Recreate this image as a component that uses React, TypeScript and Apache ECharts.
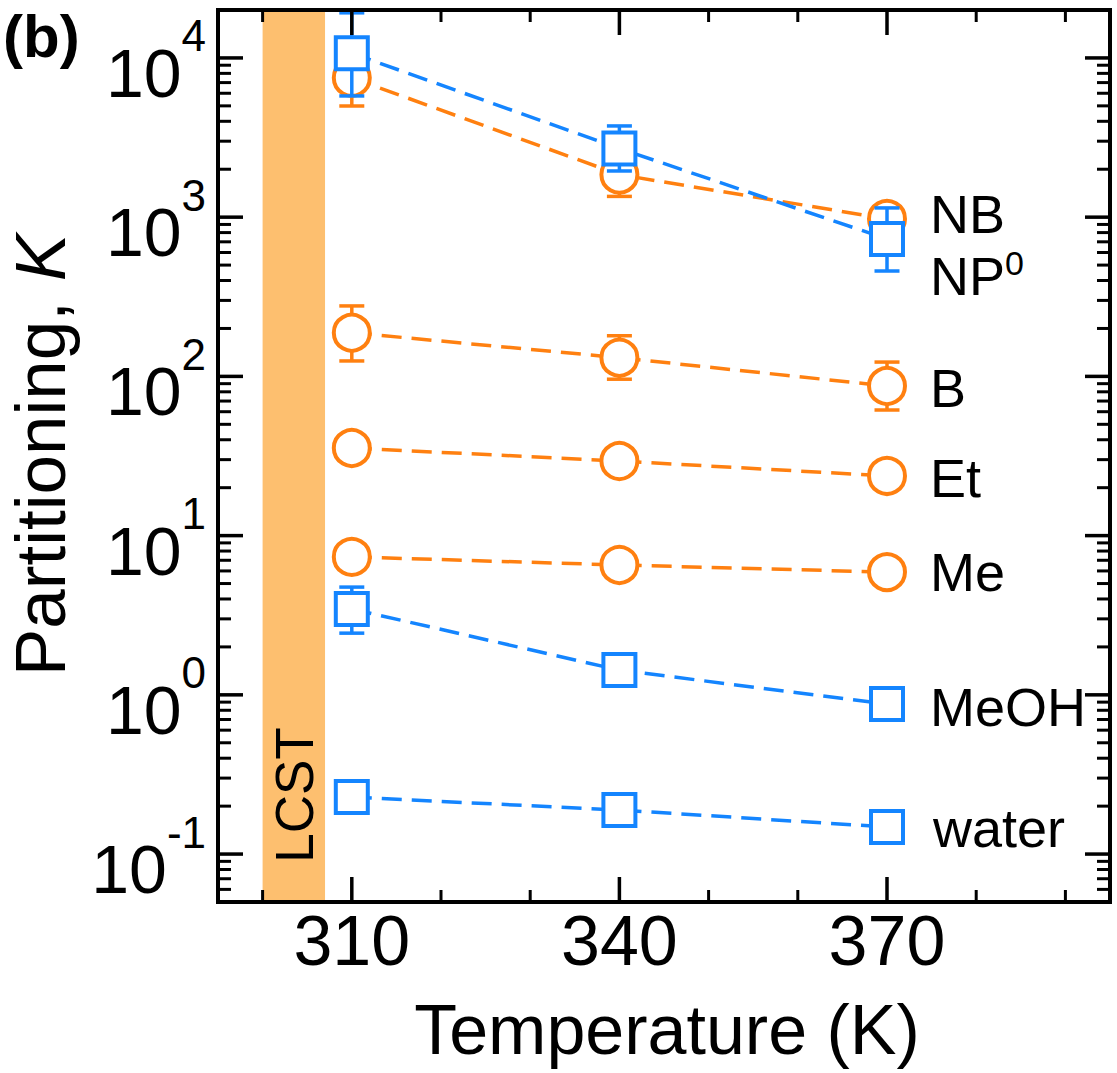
import React, { useEffect, useRef } from 'react';
import * as echarts from 'echarts';

// ---------- data ----------
const temperatures = [310, 340, 370];

const kNB = [7500, 1850, 975];
const kNP0 = [10700, 2700, 730];
const kB = [188, 131, 87];
const kEt = [35.5, 29.4, 23.7];
const kMe = [7.35, 6.54, 5.9];
const kMeOH = [3.46, 1.43, 0.875];
const kWater = [0.228, 0.189, 0.148];

const nbErrLow = [4990, 1350, null];
const nbErrHigh = [10000, 2350, null];
const bErrLow = [125, 96, 61.5];
const bErrHigh = [277, 180, 123];
const np0ErrLow = [5770, 1950, 459];
const np0ErrHigh = [19200, 3740, 1143];
const meohErrLow = [2.44, null, null];
const meohErrHigh = [4.75, null, null];

const xRange = [295, 395];
const yRange = [0.05, 20000];
const xTickValues = [300, 310, 320, 330, 340, 350, 360, 370, 380, 390];
const xMajorTicks = [310, 340, 370];
const yDecadeStarts = [0.01, 0.1, 1, 10, 100, 1000, 10000];
const lcstRange = [300, 307];

const FONT = "'Liberation Sans', Arial, Helvetica, sans-serif";
const ORANGE = '#FF8010';
const BLUE = '#1485FF';
const BAND = '#FDBF6F';

// ---------- helpers ----------
function isPow10(v: number) {
  const e = Math.log10(v);
  return Math.abs(e - Math.round(e)) < 1e-6;
}

const yTickValues: number[] = [];
yDecadeStarts.forEach((d) => {
  for (let m = 1; m <= 9; m++) {
    const v = d * m;
    if (v > yRange[0] * 1.0001 && v < yRange[1] * 0.9999) yTickValues.push(v);
  }
});

function lineSeries(name: string, values: number[], color: string, symbol: string, size: number, z: number) {
  return {
    type: 'line',
    name,
    z,
    silent: true,
    data: temperatures.map((t, i) => [t, values[i]]),
    symbol,
    symbolSize: size,
    showSymbol: true,
    itemStyle: { color: '#ffffff', borderColor: color, borderWidth: 4, opacity: 1 },
    lineStyle: { color, width: 3.5, type: [20, 10] },
    emphasis: { disabled: true },
  };
}

function errorSeries(name: string, groups: [Array<number | null>, Array<number | null>][], color: string, z: number) {
  const data: number[][] = [];
  groups.forEach(([lows, highs]) => {
    temperatures.forEach((t, i) => {
      const lo = lows[i];
      const hi = highs[i];
      if (lo != null && hi != null) data.push([t, lo, hi]);
    });
  });
  return {
    type: 'custom',
    name,
    z,
    silent: true,
    data,
    encode: { x: 0, y: [1, 2] },
    renderItem: (_params: any, api: any) => {
      const x = api.value(0);
      const lo = api.coord([x, api.value(1)]);
      const hi = api.coord([x, api.value(2)]);
      const half = 12.5;
      const st = { stroke: color, lineWidth: 3.5 };
      return {
        type: 'group',
        children: [
          { type: 'line', shape: { x1: lo[0], y1: lo[1], x2: hi[0], y2: hi[1] }, style: st },
          { type: 'line', shape: { x1: lo[0] - half, y1: lo[1], x2: lo[0] + half, y2: lo[1] }, style: st },
          { type: 'line', shape: { x1: hi[0] - half, y1: hi[1], x2: hi[0] + half, y2: hi[1] }, style: st },
        ],
      };
    },
  };
}

const yTickSeries = {
  type: 'custom',
  name: 'yticks',
  z: 10,
  silent: true,
  data: yTickValues.map((v) => [xRange[0], v]),
  renderItem: (_params: any, api: any) => {
    const v = api.value(1);
    const l = api.coord([xRange[0], v]);
    const r = api.coord([xRange[1], v]);
    const major = isPow10(v);
    const len = major ? 25 : 13;
    const st = { stroke: '#000', lineWidth: major ? 3.5 : 3 };
    return {
      type: 'group',
      children: [
        { type: 'line', shape: { x1: l[0], y1: l[1], x2: l[0] + len, y2: l[1] }, style: st },
        { type: 'line', shape: { x1: r[0], y1: r[1], x2: r[0] - len, y2: r[1] }, style: st },
      ],
    };
  },
};

const xTickSeries = {
  type: 'custom',
  name: 'xticks',
  z: 10,
  silent: true,
  data: xTickValues.map((t) => [t, yRange[0]]),
  renderItem: (_params: any, api: any) => {
    const t = api.value(0);
    const b = api.coord([t, yRange[0]]);
    const tp = api.coord([t, yRange[1]]);
    const major = xMajorTicks.indexOf(t) >= 0;
    const len = major ? 25 : 12;
    const st = { stroke: '#000', lineWidth: major ? 3.5 : 3 };
    return {
      type: 'group',
      children: [
        { type: 'line', shape: { x1: b[0], y1: b[1], x2: b[0], y2: b[1] - len }, style: st },
        { type: 'line', shape: { x1: tp[0], y1: tp[1], x2: tp[0], y2: tp[1] + len }, style: st },
      ],
    };
  },
};

const bandSeries = {
  type: 'line',
  name: 'lcst',
  z: 1,
  silent: true,
  data: [],
  markArea: {
    silent: true,
    itemStyle: { color: BAND, opacity: 1 },
    data: [[{ xAxis: lcstRange[0] }, { xAxis: lcstRange[1] }]],
  },
};

function seriesLabel(text: string, x: number, y: number, rich?: any) {
  return {
    type: 'text',
    x,
    y,
    z: 100,
    silent: true,
    style: {
      text,
      fontSize: 54,
      fontFamily: FONT,
      fill: '#000',
      align: 'left',
      verticalAlign: 'middle',
      rich,
    },
  };
}

const option: any = {
  animation: false,
  backgroundColor: '#ffffff',
  grid: {
    show: true,
    z: 10,
    left: 218,
    right: 7,
    top: 10,
    bottom: 171,
    borderColor: '#000',
    borderWidth: 4,
    backgroundColor: 'transparent',
  },
  xAxis: {
    type: 'value',
    min: xRange[0],
    max: xRange[1],
    interval: 5,
    axisLine: { show: false },
    axisTick: { show: false },
    splitLine: { show: false },
    axisLabel: {
      margin: 4,
      fontSize: 70,
      fontFamily: FONT,
      color: '#000',
      formatter: (v: number) => (xMajorTicks.indexOf(v) >= 0 ? String(v) : ''),
    },
  },
  yAxis: {
    type: 'log',
    logBase: 10,
    min: yRange[0],
    max: yRange[1],
    axisLine: { show: false },
    axisTick: { show: false },
    splitLine: { show: false },
    axisLabel: {
      margin: 12,
      formatter: (v: number) => {
        if (!isPow10(v)) return '';
        const e = Math.round(Math.log10(v));
        return `{b|10}{s|${e}}`;
      },
      rich: {
        b: { fontSize: 68, fontFamily: FONT, color: '#000', lineHeight: 60, padding: [30, 0, 0, 0] },
        s: { fontSize: 44, fontFamily: FONT, color: '#000', lineHeight: 44, padding: [0, 0, 44, 0] },
      },
    },
  },
  series: [
    bandSeries,
    errorSeries('orangeErr', [[nbErrLow, nbErrHigh], [bErrLow, bErrHigh]], ORANGE, 3),
    lineSeries('Me', kMe, ORANGE, 'circle', 36, 4),
    lineSeries('Et', kEt, ORANGE, 'circle', 36, 4),
    lineSeries('B', kB, ORANGE, 'circle', 36, 4),
    lineSeries('NB', kNB, ORANGE, 'circle', 36, 4),
    errorSeries('blueErr', [[np0ErrLow, np0ErrHigh], [meohErrLow, meohErrHigh]], BLUE, 5),
    lineSeries('water', kWater, BLUE, 'rect', 32, 6),
    lineSeries('MeOH', kMeOH, BLUE, 'rect', 32, 6),
    lineSeries('NP0', kNP0, BLUE, 'rect', 32, 6),
    xTickSeries,
    yTickSeries,
  ],
  graphic: [
    {
      type: 'text',
      x: 3,
      y: 36,
      z: 100,
      silent: true,
      style: { text: '(b)', fontSize: 60, fontWeight: 'bold', fontFamily: FONT, fill: '#000', align: 'left', verticalAlign: 'middle' },
    },
    {
      type: 'text',
      x: 40,
      y: 455,
      rotation: Math.PI / 2,
      z: 100,
      silent: true,
      style: {
        text: 'Partitioning, {i|K}',
        fontSize: 71,
        fontFamily: FONT,
        fill: '#000',
        align: 'center',
        verticalAlign: 'middle',
        rich: { i: { fontSize: 71, fontFamily: FONT, fontStyle: 'italic', fill: '#000' } },
      },
    },
    {
      type: 'text',
      x: 667,
      y: 1030,
      z: 100,
      silent: true,
      style: { text: 'Temperature (K)', fontSize: 70, fontFamily: FONT, fill: '#000', align: 'center', verticalAlign: 'middle' },
    },
    {
      type: 'text',
      x: 294,
      y: 795,
      rotation: Math.PI / 2,
      z: 100,
      silent: true,
      style: { text: 'LCST', fontSize: 53, fontFamily: FONT, fill: '#000', align: 'center', verticalAlign: 'middle' },
    },
    seriesLabel('NB', 930, 214),
    seriesLabel('NP{s|0}', 930, 276, {
      s: { fontSize: 34, fontFamily: FONT, fill: '#000', lineHeight: 34, padding: [0, 0, 26, 0] },
    }),
    seriesLabel('B', 930, 388),
    seriesLabel('Et', 930, 478),
    seriesLabel('Me', 930, 572),
    seriesLabel('MeOH', 930, 707),
    seriesLabel('water', 933, 828),
  ],
};

export default function App() {
  const ref = useRef<HTMLDivElement>(null);
  useEffect(() => {
    if (!ref.current) return;
    const chart = echarts.init(ref.current, undefined, { renderer: 'svg' });
    chart.setOption(option);
    return () => chart.dispose();
  }, []);
  return (
    <div
      ref={ref}
      style={{ position: 'absolute', left: 0, top: 0, width: 1117, height: 1073, background: '#fff' }}
    />
  );
}
